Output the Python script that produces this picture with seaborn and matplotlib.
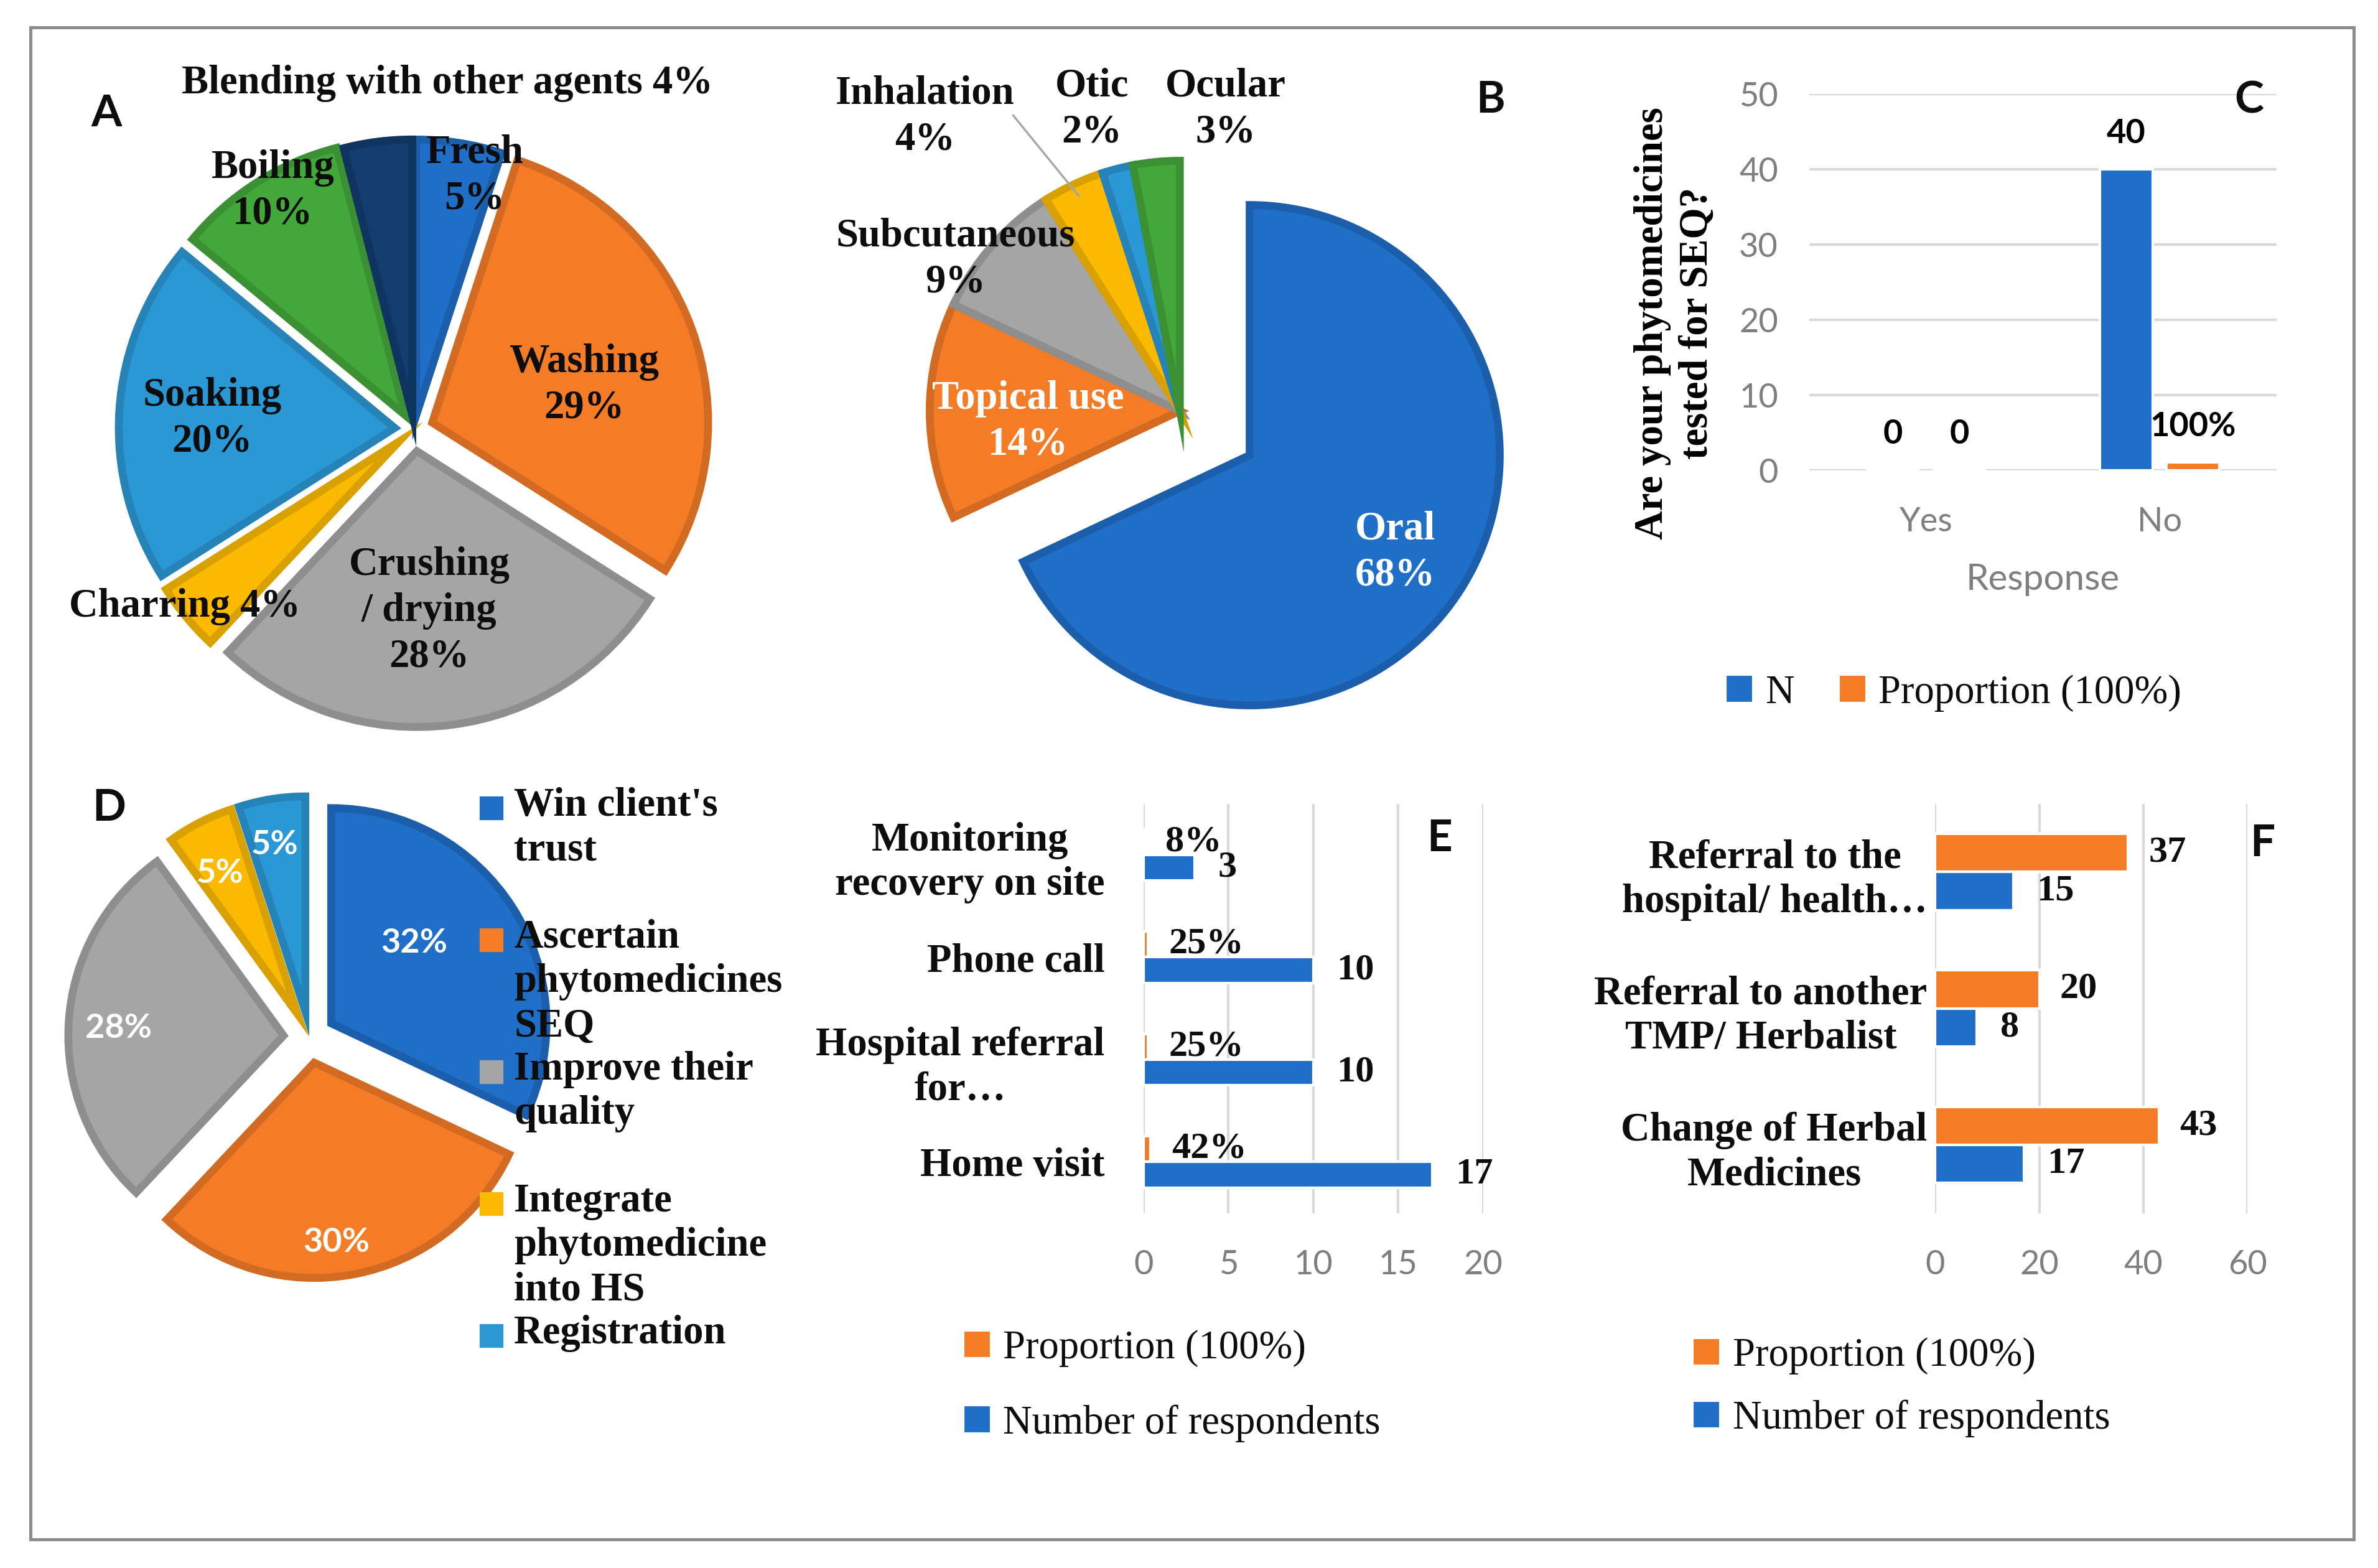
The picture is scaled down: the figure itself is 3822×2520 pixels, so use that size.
import matplotlib
matplotlib.use("Agg")
import matplotlib.pyplot as plt
import matplotlib.colors as mcolors
import numpy as np
import pandas as pd
import seaborn as sns
from matplotlib.patches import Rectangle

# ---- data ----
# A: preparation of the plant material (%)
prep_names = ["Fresh", "Washing", "Crushing\n/ drying", "Charring", "Soaking", "Boiling",
              "Blending with other agents"]
prep_pct = [5, 29, 28, 4, 20, 10, 4]

# B: route of administration (%)
route_names = ["Oral", "Topical use", "Subcutaneous", "Inhalation", "Otic", "Ocular"]
route_pct = [68, 14, 9, 4, 2, 3]

# C: are your phytomedicines tested for SEQ?
seq_response = ["Yes", "No"]
seq_n = [0, 40]
seq_prop = [0, 1]

# D: reasons (%)
reason_names = ["Win client's\ntrust", "Ascertain\nphytomedicines\nSEQ", "Improve their\nquality",
                "Integrate\nphytomedicine\ninto HS", "Registration"]
reason_pct = [32, 30, 28, 5, 5]

# E: follow-up of patients
follow_items = ["Monitoring\nrecovery on site", "Phone call", "Hospital referral\nfor…", "Home visit"]
follow_n = [3, 10, 10, 17]
follow_prop = [0.08, 0.25, 0.25, 0.42]

# F: action taken when treatment fails
action_items = ["Referral to the\nhospital/ health…", "Referral to another\nTMP/ Herbalist",
                "Change of Herbal\nMedicines"]
action_prop = [37, 20, 43]
action_n = [15, 8, 17]

PROP = "Proportion (100%)"
NUM = "Number of respondents"

BLUE = "#1F6FC8"
ORANGE = "#F47C26"
GREY = "#A5A5A5"
YELLOW = "#FBBA00"
LBLUE = "#2B98D6"
GREEN = "#43A83A"
NAVY = "#123D6E"
TICK = "#7F7F7F"
GRID = "#D9D9D9"
INK = "#0D0D0D"

SERIF = "Liberation Serif"
SANS = "Lato"
FS = 15.5      # bold serif labels
FS_LEG = 15.5  # legend text

sns.set_theme(style="white")
plt.rcParams["font.family"] = [SANS, "DejaVu Sans"]

W, H = 1568, 1034
fig = plt.figure(figsize=(3822 / 300, 2520 / 300), dpi=300)


def fx(x):
    return x / W


def fy(y):
    return 1 - y / H


def darken(c, f=0.86):
    r, g, b = mcolors.to_rgb(c)
    return (r * f, g * f, b * f)


def put(x, y, s, **kw):
    kw.setdefault("ha", "center")
    kw.setdefault("va", "center")
    kw.setdefault("fontsize", FS)
    kw.setdefault("fontweight", "bold")
    kw.setdefault("family", SERIF)
    kw.setdefault("linespacing", 1.3)
    kw.setdefault("color", INK)
    return fig.text(fx(x), fy(y), s, **kw)


def pie_axes(cx, cy, r, lim=1.4):
    ax = fig.add_axes([fx(cx - lim * r), fy(cy + lim * r), 2 * lim * r / W, 2 * lim * r / H])
    ax.patch.set_visible(False)
    return ax


def finish_pie(ax, wedges, colors, lim=1.4):
    for w, c in zip(wedges, colors):
        w.set_edgecolor(darken(c))
    ax.set_xlim(-lim, lim)
    ax.set_ylim(-lim, lim)
    ax.set_aspect("equal")
    ax.axis("off")


def serif_legend(ax):
    for t in ax.get_legend().get_texts():
        t.set_family(SERIF)
        t.set_fontsize(FS_LEG)
        t.set_color(INK)


# outer frame
fig.add_artist(Rectangle((fx(20), fy(1015)), (1552 - 20) / W, (1015 - 18) / H,
                         transform=fig.transFigure, fill=False, edgecolor="#8C8C8C", lw=1.2))

# ---------------- A ----------------
colA = [BLUE, ORANGE, GREY, YELLOW, LBLUE, GREEN, NAVY]
axA = pie_axes(273, 283, 182)
wA, _ = axA.pie(prep_pct, colors=colA, startangle=90, counterclock=False,
                explode=[0.05, 0.07, 0.08, 0.07, 0.07, 0.06, 0.05],
                wedgeprops=dict(linewidth=3))
finish_pie(axA, wA, colA)

posA = [(313, 116), (385, 254), (283, 403), (122, 400), (140, 276), (180, 126), (295, 55)]
for name, pct, (x, y) in zip(prep_names, prep_pct, posA):
    sep = " " if name in ("Charring", "Blending with other agents") else "\n"
    put(x, y, f"{name}{sep}{pct}%")
put(70, 75, "A", family=SANS, fontsize=17)

# ---------------- B ----------------
colB = [BLUE, ORANGE, GREY, YELLOW, LBLUE, GREEN]
axB = pie_axes(778, 271, 165)
wB, _ = axB.pie(route_pct, colors=colB, startangle=90, counterclock=False,
                explode=[0.33, 0, 0, 0, 0, 0], wedgeprops=dict(linewidth=3))
finish_pie(axB, wB, colB)

posB = [(920, 364), (678, 278), (630, 171), (610, 77), (720, 72), (808, 72)]
txtB = ["white", "white", INK, INK, INK, INK]
for name, pct, (x, y), c in zip(route_names, route_pct, posB, txtB):
    put(x, y, f"{name}\n{pct}%", color=c)
# leader line for the inhalation wedge
th = np.deg2rad((wB[3].theta1 + wB[3].theta2) / 2)
axB.annotate("", xy=(0.95 * np.cos(th), 0.95 * np.sin(th)), xycoords="data",
             xytext=(fx(668), fy(76)), textcoords="figure fraction",
             arrowprops=dict(arrowstyle="-", color="#A6A6A6", lw=0.8, shrinkA=0, shrinkB=0))
put(983, 66, "B", family=SANS, fontsize=17)

# ---------------- C ----------------
axC = fig.add_axes([fx(1193), fy(310), (1501 - 1193) / W, (310 - 62) / H])
dfC = pd.DataFrame({"Response": seq_response * 2,
                    "value": seq_n + seq_prop,
                    "series": ["N"] * 2 + [PROP] * 2})
sns.barplot(data=dfC, x="Response", y="value", hue="series", hue_order=["N", PROP],
            palette=[BLUE, ORANGE], width=0.57, gap=0.2, saturation=1, errorbar=None, ax=axC)
axC.set_ylim(0, 50)
axC.set_yticks(range(0, 51, 10))
axC.grid(axis="y", color=GRID, lw=1)
axC.set_axisbelow(True)
sns.despine(ax=axC, left=True, bottom=True)
axC.tick_params(length=0, labelsize=13, labelcolor=TICK)
axC.tick_params(axis="y", pad=12)
axC.tick_params(axis="x", pad=14)
axC.bar_label(axC.containers[0], labels=[str(v) for v in seq_n], padding=8,
              fontsize=13, fontweight="bold", color="black")
axC.bar_label(axC.containers[1], labels=[f"{v:.0%}" if v else "0" for v in seq_prop], padding=8,
              fontsize=13, fontweight="bold", color="black")
axC.set_xlabel("Response", fontsize=14, color=TICK, labelpad=10)
axC.set_ylabel("Are your phytomedicines\ntested for SEQ?", family=SERIF, fontweight="bold",
               fontsize=FS, color="black", linespacing=1.25)
axC.yaxis.set_label_coords(-0.2, 0.39)
sns.move_legend(axC, "center", bbox_to_anchor=(fx(1288), fy(457)), bbox_transform=fig.transFigure,
                ncol=2, title=None, frameon=False, fontsize=FS_LEG,
                handlelength=0.7, handleheight=0.7, handletextpad=0.3, columnspacing=1.1,
                borderpad=0, borderaxespad=0)
serif_legend(axC)
put(1483, 66, "C", family=SANS, fontsize=17)

# ---------------- D ----------------
colD = [BLUE, ORANGE, GREY, YELLOW, LBLUE]
axD = pie_axes(204, 684, 142)
wD, _ = axD.pie(reason_pct, colors=colD, startangle=90, counterclock=False,
                explode=[0.12] * 5, wedgeprops=dict(linewidth=3))
finish_pie(axD, wD, colD)
posD = [(273, 622), (222, 819), (78, 678), (145, 576), (181, 557)]
for pct, (x, y) in zip(reason_pct, posD):
    put(x, y, f"{pct}%", family=SANS, fontsize=13, color="white")
for i, (name, c) in enumerate(zip(reason_names, colD)):
    y0 = 533 + 87 * i
    fig.add_artist(Rectangle((fx(317), fy(y0 + 7)), 14 / W, 14 / H,
                             transform=fig.transFigure, color=c))
    put(339, y0 - 14, name, ha="left", va="top", linespacing=1.25)
put(72, 533, "D", family=SANS, fontsize=17)


# ---------------- E and F ----------------
def hbars(ax, items, prop, num, xmax, step, width, prop_fmt, legend_xy, ypad, lspace):
    df = pd.DataFrame({"item": items * 2, "value": prop + num,
                       "series": [PROP] * len(items) + [NUM] * len(items)})
    sns.barplot(data=df, y="item", x="value", hue="series", hue_order=[PROP, NUM],
                palette=[ORANGE, BLUE], orient="h", width=width, saturation=1,
                errorbar=None, ax=ax)
    ax.set_xlim(0, xmax)
    ax.set_xticks(range(0, xmax + 1, step))
    ax.set(xlabel="", ylabel="")
    ax.grid(axis="x", color=GRID, lw=1)
    ax.set_axisbelow(True)
    sns.despine(ax=ax, left=True, bottom=True)
    ax.tick_params(length=0)
    ax.tick_params(axis="x", labelsize=13, labelcolor=TICK, pad=14)
    ax.tick_params(axis="y", pad=ypad)
    for t in ax.get_yticklabels():
        t.set(family=SERIF, fontweight="bold", fontsize=FS, color=INK,
              multialignment="center", linespacing=1.25)
    ax.bar_label(ax.containers[0], labels=[prop_fmt(v) for v in prop], padding=8,
                 family=SERIF, fontweight="bold", fontsize=14.5, color=INK)
    ax.bar_label(ax.containers[1], labels=[str(v) for v in num], padding=9,
                 family=SERIF, fontweight="bold", fontsize=14.5, color=INK)
    sns.move_legend(ax, "upper left", bbox_to_anchor=(fx(legend_xy[0]), fy(legend_xy[1])),
                    bbox_transform=fig.transFigure, ncol=1, title=None, frameon=False,
                    fontsize=FS_LEG, handlelength=0.7, handleheight=0.7,
                    handletextpad=0.3, labelspacing=lspace, borderpad=0, borderaxespad=0)
    serif_legend(ax)


axE = fig.add_axes([fx(754), fy(800), (978 - 754) / W, 270 / H])
hbars(axE, follow_items, follow_prop, follow_n, 20, 5, 0.5, lambda v: f"{v:.0%}",
      (635, 877), 15, 0.93)
put(949, 553, "E", family=SANS, fontsize=17)

axF = fig.add_axes([fx(1276), fy(800), (1482 - 1276) / W, 270 / H])
hbars(axF, action_items, action_prop, action_n, 60, 20, 0.56, str, (1116, 882), 3, 0.62)
put(1492, 556, "F", family=SANS, fontsize=17)

fig.savefig("out.png", dpi=300)
